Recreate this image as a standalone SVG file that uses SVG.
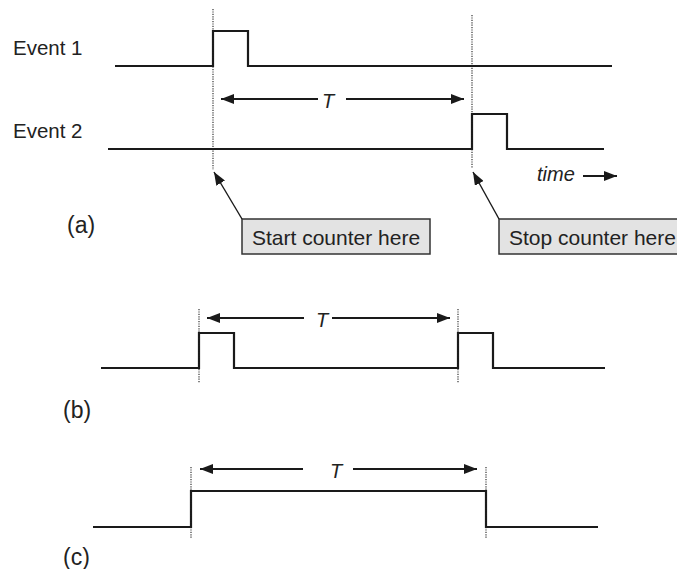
<svg xmlns="http://www.w3.org/2000/svg" width="677" height="569" viewBox="0 0 677 569">
<style>
.sig{fill:none;stroke:#1a1a1a;stroke-width:2.2}
.dot{stroke:#222;stroke-width:1.1;stroke-dasharray:1.2 1.2;fill:none}
.arr{stroke:#1a1a1a;stroke-width:2;fill:none}
.lead{stroke:#1a1a1a;stroke-width:1.4;fill:none}
.t{font-family:"Liberation Sans",Arial,sans-serif;fill:#222}
.lbl{font-size:20.5px}
.big{font-size:23px}
.it{font-style:italic;font-size:20px}
.box{fill:#e3e3e3;stroke:#333;stroke-width:1.5}
</style>
<defs>
<marker id="ah" viewBox="0 0 13 10" refX="13" refY="5" markerWidth="13" markerHeight="10" markerUnits="userSpaceOnUse" orient="auto"><path d="M0,0L13,5L0,10z" fill="#1a1a1a"/></marker>
</defs>
<g id="part-a">
<g id="event1"><text class="t lbl" x="13" y="55">Event 1</text><path class="sig" d="M115,66H213V31H248V66H612"/></g>
<g id="event2"><text class="t lbl" x="13" y="138">Event 2</text><path class="sig" d="M108,149H472V114H507V149H604"/></g>
<g id="label-a"><text class="t big" x="67" y="233">(a)</text></g>
<g id="start-box"><rect class="box" x="242" y="219" width="188" height="35"/><text class="t lbl" x="252" y="245" style="font-size:21px">Start counter here</text></g>
<g id="stop-box"><rect class="box" x="499" y="219" width="200" height="35"/><text class="t lbl" x="509" y="245" style="font-size:21px">Stop counter here</text></g>
<g id="time-label"><text class="t it" x="537" y="181">time</text></g>
<g id="T-a"><text class="t it" x="328" y="108" text-anchor="middle">T</text></g>
</g>
<g id="part-b">
<path class="sig" d="M101,368H199V333H234V368H458V333H493V368H605"/>
<text class="t big" x="63" y="418">(b)</text>
<text class="t it" x="322" y="327" text-anchor="middle">T</text>
</g>
<g id="part-c">
<path class="sig" d="M93,527H191V491H486V527H598"/>
<text class="t big" x="63" y="565">(c)</text>
<text class="t it" x="336" y="478" text-anchor="middle">T</text>
</g>
<g id="connectors">
<line class="dot" x1="213" y1="9" x2="213" y2="170"/>
<line class="dot" x1="472" y1="15" x2="472" y2="168"/>
<line class="arr" x1="318" y1="99" x2="221" y2="99" marker-end="url(#ah)"/>
<line class="arr" x1="346" y1="99" x2="464" y2="99" marker-end="url(#ah)"/>
<line class="lead" x1="242" y1="219" x2="214" y2="172" marker-end="url(#ah)"/>
<line class="lead" x1="499" y1="219" x2="473" y2="172" marker-end="url(#ah)"/>
<line class="arr" x1="583" y1="176" x2="617" y2="176" marker-end="url(#ah)"/>
<line class="dot" x1="199" y1="309" x2="199" y2="383"/>
<line class="dot" x1="458" y1="309" x2="458" y2="383"/>
<line class="arr" x1="304" y1="318" x2="207" y2="318" marker-end="url(#ah)"/>
<line class="arr" x1="332" y1="318" x2="450" y2="318" marker-end="url(#ah)"/>
<line class="dot" x1="191" y1="467" x2="191" y2="539"/>
<line class="dot" x1="486" y1="467" x2="486" y2="539"/>
<line class="arr" x1="303" y1="469" x2="200" y2="469" marker-end="url(#ah)"/>
<line class="arr" x1="353" y1="469" x2="477" y2="469" marker-end="url(#ah)"/>
</g>
</svg>
